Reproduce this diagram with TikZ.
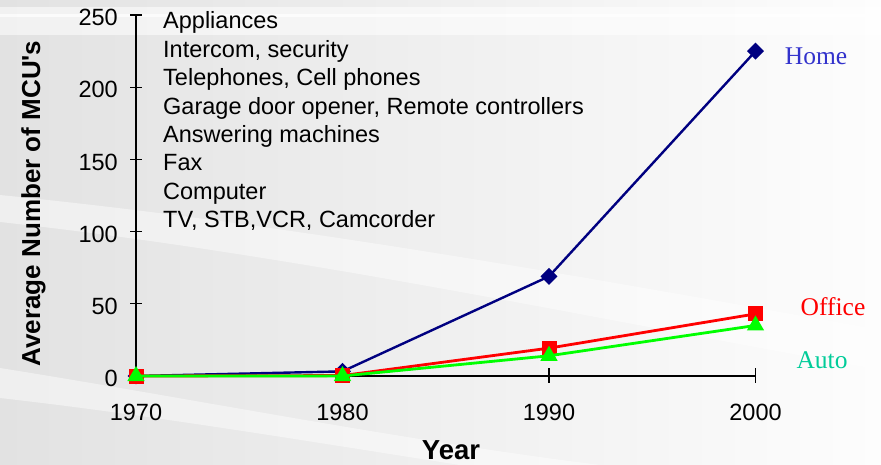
\documentclass[tikz,border=0pt]{standalone}
\usepackage{fontspec}
\setmainfont{Liberation Serif}
\newfontfamily\arial{Liberation Sans}
\usetikzlibrary{shapes.geometric}
\definecolor{navyline}{HTML}{000080}
\definecolor{homelabel}{HTML}{3333CC}
\definecolor{autolabel}{HTML}{00CC99}
\definecolor{autoline}{HTML}{00FF00}
\definecolor{bgleft}{HTML}{E2E2E2}
\definecolor{bgmid}{HTML}{F1F1F1}
\definecolor{bgright}{HTML}{FDFDFD}
\begin{document}
\begin{tikzpicture}[x=1pt,y=-1pt,
  axisline/.style={draw=black, line width=1.3pt},
  ticklabel/.style={font=\arial\fontsize{23.5}{28}\selectfont, inner sep=0},
  listitem/.style={font=\arial\fontsize{23.5}{28}\selectfont, anchor=base west, inner sep=0},
  serieslabel/.style={font=\fontsize{25.5}{30}\selectfont, anchor=base, inner sep=0},
  homepath/.style={draw=navyline, line width=2.4pt, line join=round},
  officepath/.style={draw=red, line width=2.8pt, line join=round},
  autopath/.style={draw=autoline, line width=2.8pt, line join=round},
  homemark/.style={fill=navyline, rectangle, rotate=45, minimum size=12pt, inner sep=0},
  officemark/.style={fill=red, rectangle, minimum size=15pt, inner sep=0},
  automark/.style={fill=autoline, isosceles triangle, isosceles triangle apex angle=60,
    shape border rotate=90, minimum height=15pt, minimum width=17pt, inner sep=0}]
\useasboundingbox (0,0) rectangle (881,465);

% background: grey-to-white sweep with soft light bands
\shade[left color=bgleft, middle color=bgmid, right color=bgright] (0,0) rectangle (881,465);
\fill[white, opacity=0.55] (0,7) rectangle (881,35);
\fill[white, opacity=0.7] (0,14) rectangle (881,17);
\fill[white, opacity=0.45] (0,195) .. controls (300,225) and (600,280) .. (881,330)
  -- (881,370) .. controls (600,320) and (300,255) .. (0,222) -- cycle;
\fill[white, opacity=0.45] (0,368) .. controls (200,400) and (400,440) .. (600,465)
  -- (460,465) .. controls (300,440) and (150,415) .. (0,398) -- cycle;

% title texts of the chart
\node[font=\arial\bfseries\fontsize{26}{30}\selectfont, rotate=90, anchor=base, inner sep=0]
  (ylabel) at (40,203.5) {Average Number of MCU's};
\node[font=\arial\bfseries\fontsize{27.5}{32}\selectfont, anchor=base, inner sep=0]
  (xlabel) at (451,459.5) {Year};

% list of applications
\foreach \t [count=\i] in {Appliances, {Intercom, security}, {Telephones, Cell phones},
  {Garage door opener, Remote controllers}, Answering machines, Fax, Computer,
  {TV, STB,VCR, Camcorder}}
  \node[listitem] (item\i) at (163,{29+(\i-1)*28.4}) {\t};

% data frame: x in years after 1970, y in number of MCUs
\begin{scope}[shift={(136pt,-376pt)}, x=20.65pt, y=1.4436pt]
  \draw[axisline] (0,250) -- (0,0) -- (30,0);
  \foreach \v in {0,50,...,250} {
    \draw[axisline] ([xshift=-6pt]0,\v) -- ([xshift=6pt]0,\v);
    \node[ticklabel, anchor=base east] (ytick\v) at ([xshift=-18pt, yshift=-10.7pt]0,\v) {\v};
  }
  \foreach \yr in {0,10,20,30} {
    \draw[axisline] ([yshift=8pt]\yr,0) -- ([yshift=-7pt]\yr,0);
    \pgfmathtruncatemacro\lab{1970+\yr}
    \node[ticklabel, anchor=base] (xtick\yr) at ([yshift=-44pt]\yr,0) {\lab};
  }

  \coordinate (h70) at (0,0);  \coordinate (h80) at (10,3.2);
  \coordinate (h90) at (20,69); \coordinate (h00) at (30,225);
  \coordinate (o70) at (0,0);  \coordinate (o80) at (10,0.3);
  \coordinate (o90) at (20,19.3); \coordinate (o00) at (30,43);
  \coordinate (a70) at (0,0);  \coordinate (a80) at (10,0);
  \coordinate (a90) at (20,14); \coordinate (a00) at (30,35);

  \draw[homepath] (h70) -- (h80) -- (h90) -- (h00);
  \foreach \p in {h70,h80,h90,h00} \node[homemark] (m\p) at (\p) {};
  \draw[officepath] (o70) -- (o80) -- (o90) -- (o00);
  \foreach \p in {o70,o80,o90,o00} \node[officemark] (m\p) at (\p) {};
  \draw[autopath] (a70) -- (a80) -- (a90) -- (a00);
  \foreach \p in {a70,a80,a90,a00} \node[automark] (m\p) at (\p) {};
\end{scope}

% series names
\node[serieslabel, text=homelabel] (homename) at (816,65) {Home};
\node[serieslabel, text=red] (officename) at (833,315) {Office};
\node[serieslabel, text=autolabel] (autoname) at (822,368) {Auto};
\end{tikzpicture}
\end{document}
